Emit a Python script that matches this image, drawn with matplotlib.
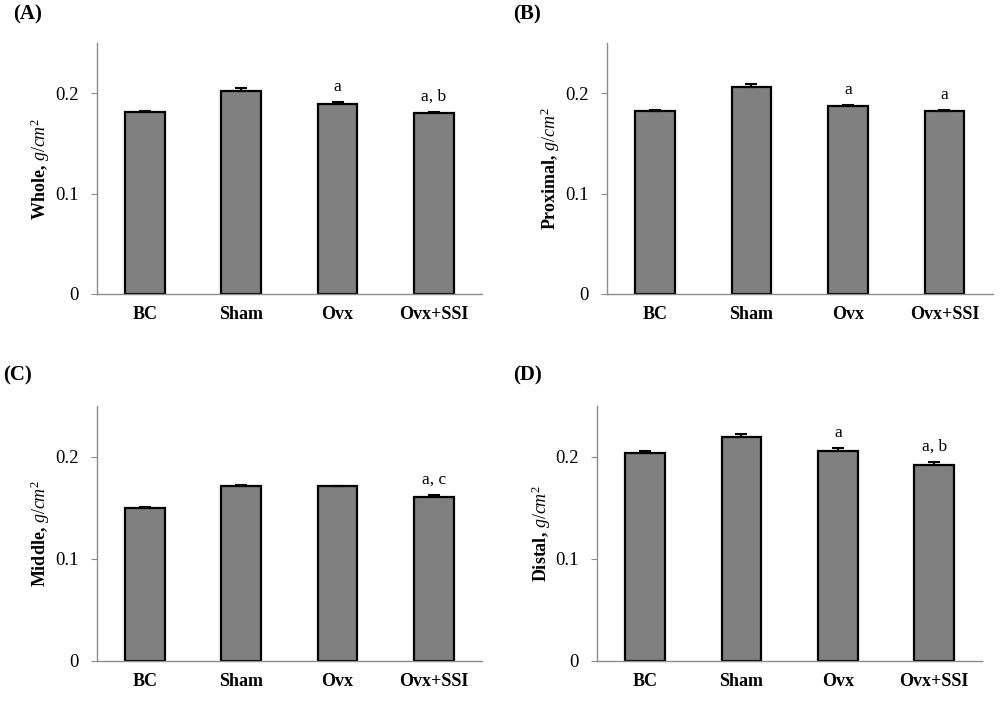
import matplotlib
matplotlib.use('Agg')
import matplotlib.pyplot as plt

plt.rcParams['font.family'] = ['Liberation Serif', 'DejaVu Serif']
plt.rcParams['mathtext.fontset'] = 'custom'
plt.rcParams['mathtext.rm'] = 'Liberation Serif'
plt.rcParams['mathtext.it'] = 'Liberation Serif:italic'
plt.rcParams['mathtext.bf'] = 'Liberation Serif:bold'

groups = ['BC', 'Sham', 'Ovx', 'Ovx+SSI']

whole = [0.181, 0.2025, 0.1897, 0.1802]
whole_err = [0.0011, 0.0026, 0.0011, 0.0011]
whole_marks = ['', '', 'a', 'a, b']

proximal = [0.1824, 0.2063, 0.1874, 0.1824]
proximal_err = [0.0011, 0.0033, 0.0011, 0.0011]
proximal_marks = ['', '', 'a', 'a']

middle = [0.1494, 0.1713, 0.1713, 0.1602]
middle_err = [0.0011, 0.0011, 0.0006, 0.0026]
middle_marks = ['', '', '', 'a, c']

distal = [0.2043, 0.2193, 0.2063, 0.1919]
distal_err = [0.0011, 0.0033, 0.0026, 0.0033]
distal_marks = ['', '', 'a', 'a, b']

# panel tag, y name, data, axes rect (figure fractions), tag position (figure fractions)
panels = [
    ('(A)', 'Whole', whole, whole_err, whole_marks, [0.0967, 0.5806, 0.3853, 0.3581], (0.013, 0.979)),
    ('(B)', 'Proximal', proximal, proximal_err, proximal_marks, [0.6067, 0.5806, 0.386, 0.3581], (0.513, 0.979)),
    ('(C)', 'Middle', middle, middle_err, middle_marks, [0.0967, 0.0575, 0.3853, 0.3633], (0.003, 0.465)),
    ('(D)', 'Distal', distal, distal_err, distal_marks, [0.597, 0.0575, 0.3853, 0.3633], (0.513, 0.465)),
]

fig = plt.figure(figsize=(10, 7.01), dpi=100)

axis_gray = '#8c8c8c'

for tag, name, vals, errs, marks, rect, tag_pos in panels:
    ax = fig.add_axes(rect)
    x = range(len(groups))
    ax.bar(x, vals, width=0.41, color='#808080', edgecolor='black', linewidth=1.6, zorder=2)
    ax.errorbar(x, vals, yerr=[[0] * len(errs), errs], fmt='none', ecolor='black',
                elinewidth=1.5, capsize=4.5, capthick=1.5, zorder=3)
    for xi, v, e, m in zip(x, vals, errs, marks):
        if m:
            ax.annotate(m, (xi, v + e), xytext=(0, 5), textcoords='offset points',
                        ha='center', va='bottom', fontsize=12.5)
    ax.set_xlim(-0.5, 3.5)
    ax.set_ylim(0, 0.25)
    ax.set_yticks([0, 0.1, 0.2])
    ax.set_yticklabels(['0', '0.1', '0.2'], fontsize=13.5)
    ax.set_xticks(list(x))
    ax.set_xticklabels(groups, fontsize=13, fontweight='bold')
    ax.tick_params(axis='x', length=0, pad=9)
    ax.tick_params(axis='y', length=4, color=axis_gray, pad=9)
    for s in ['top', 'right']:
        ax.spines[s].set_visible(False)
    for s in ['left', 'bottom']:
        ax.spines[s].set_color(axis_gray)
        ax.spines[s].set_linewidth(1.0)
    ax.set_ylabel(name + r', $\mathit{g/cm^2}$', fontsize=13, fontweight='bold', labelpad=2)
    fig.text(tag_pos[0], tag_pos[1], tag, fontsize=15, fontweight='bold',
             ha='left', va='center')

fig.savefig('out.png', dpi=100)
plt.close(fig)
